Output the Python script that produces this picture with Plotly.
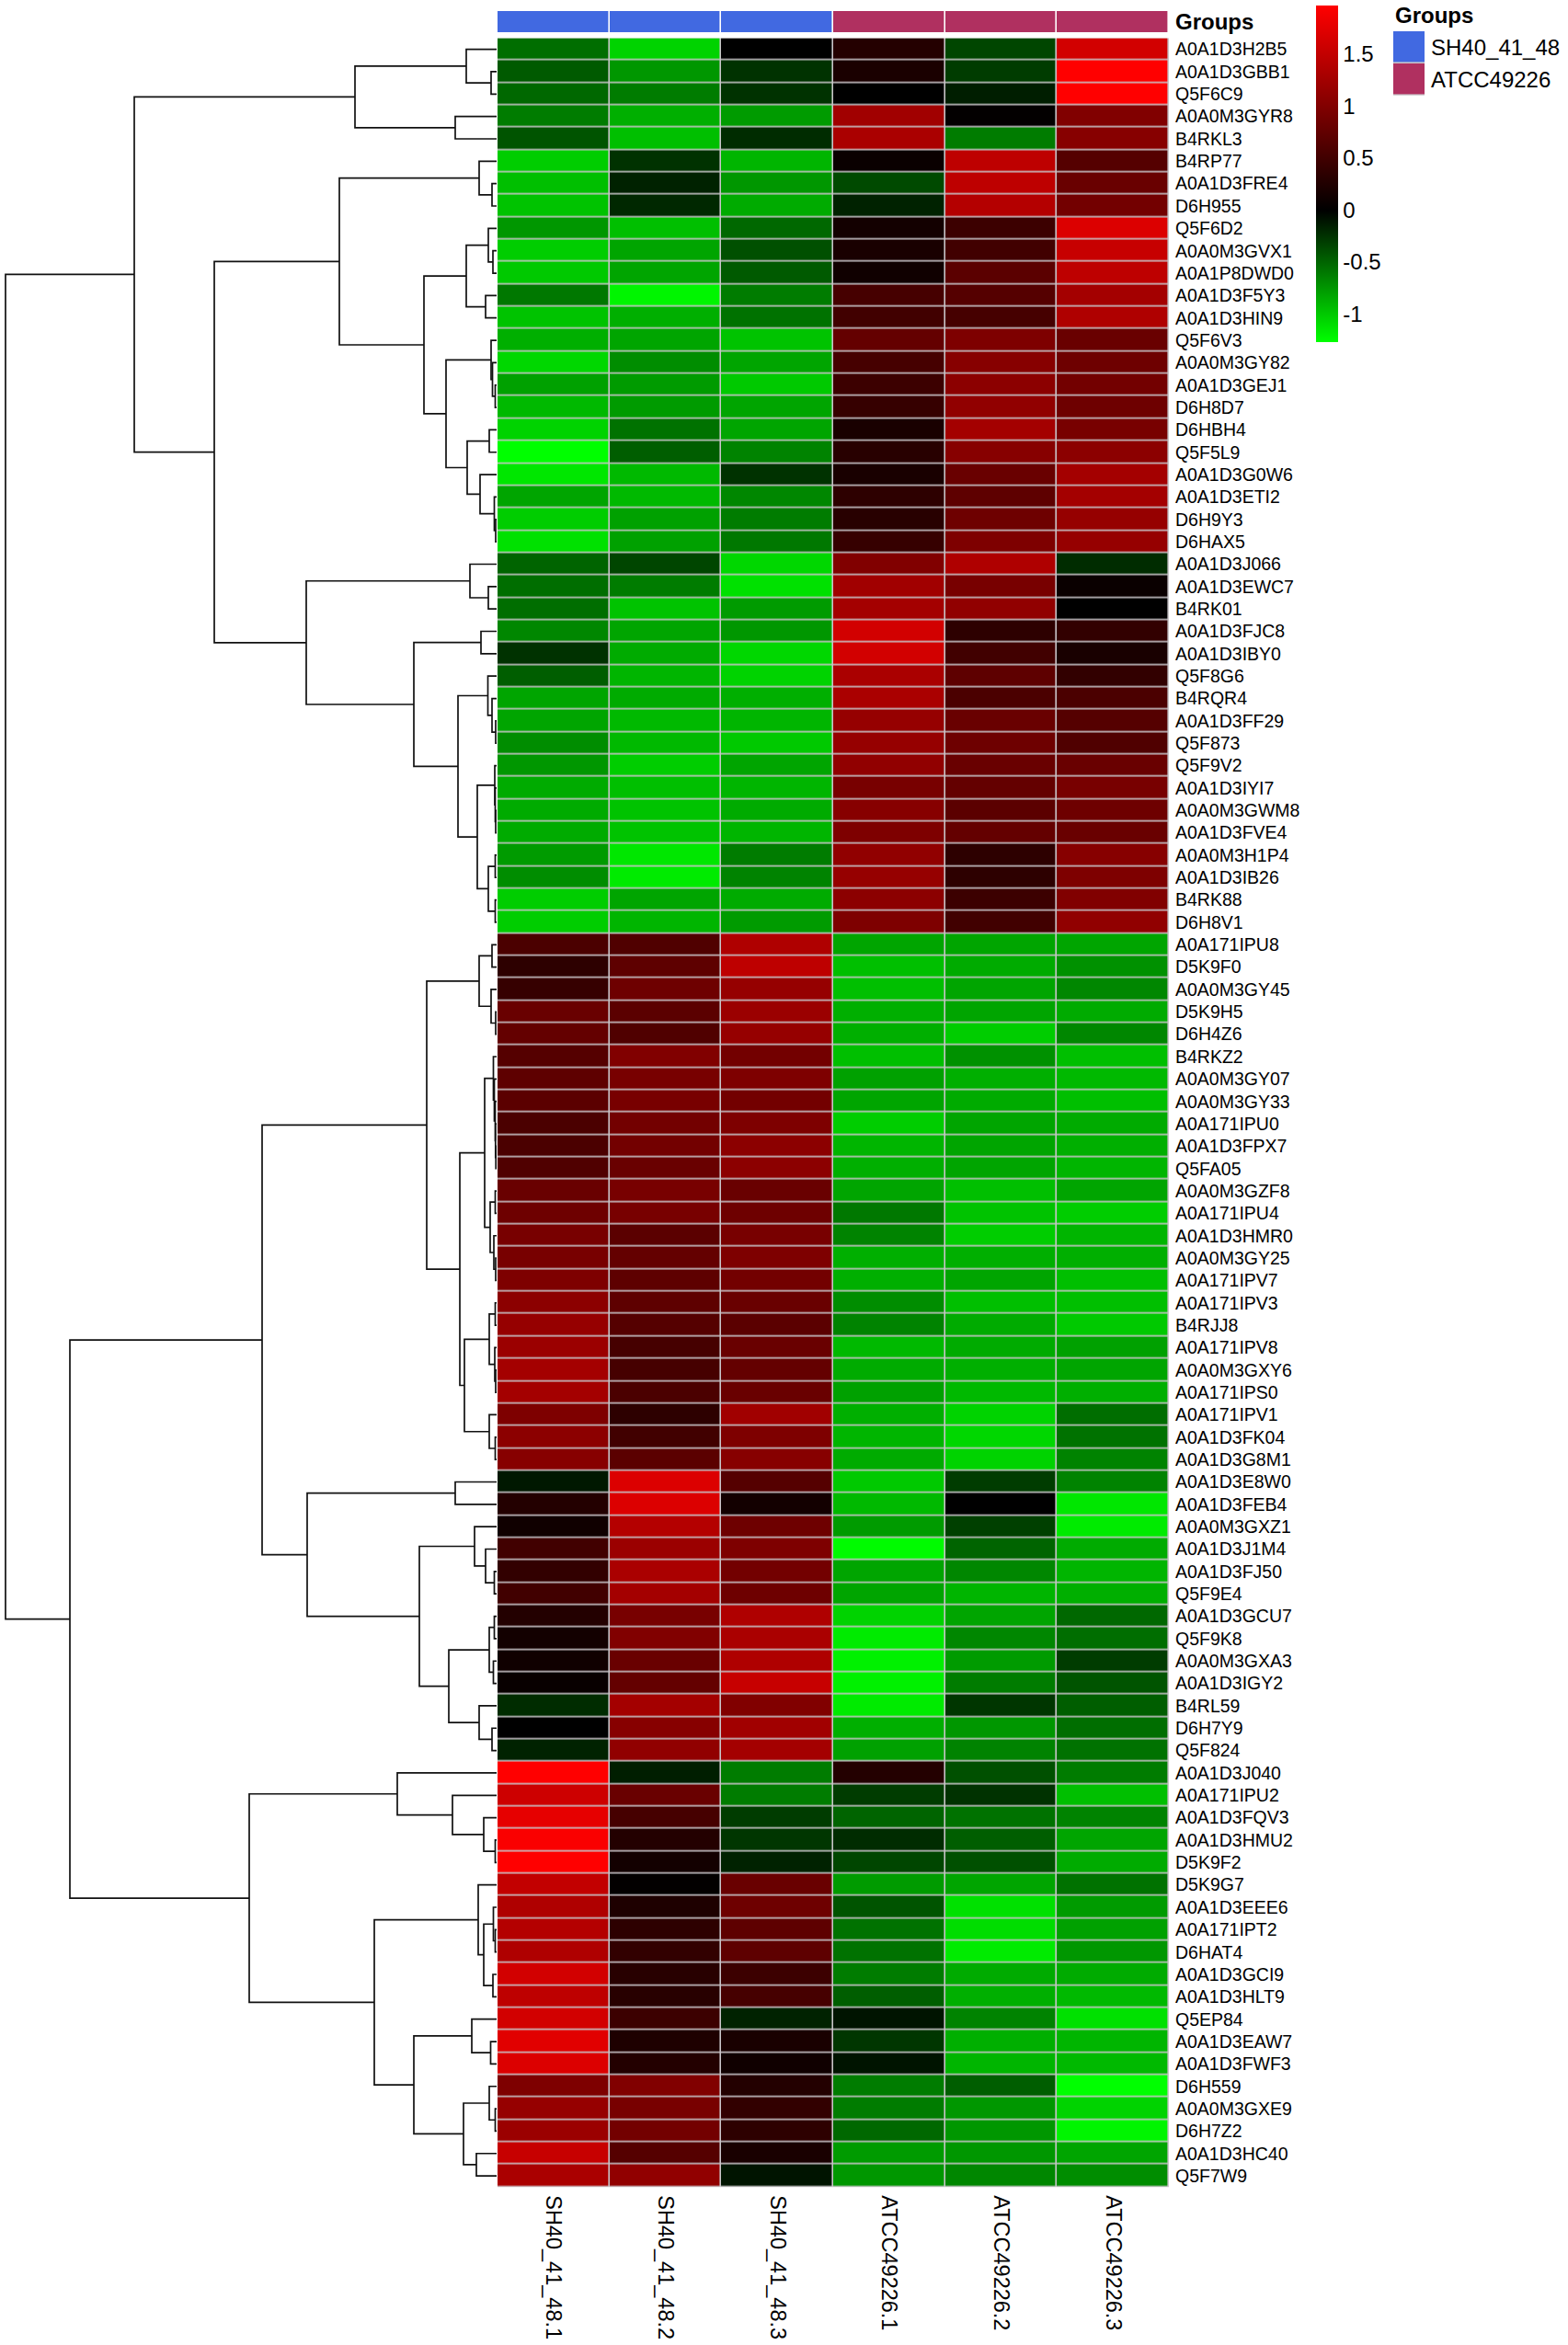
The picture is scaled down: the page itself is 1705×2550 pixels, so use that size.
import plotly.graph_objects as go

FIG_W = 1705
FIG_H = 2550
FONT = "Liberation Sans"
GRID = "#c9c5c9"
BLUE = "#4169E1"
MAROON = "#B03060"

SAMPLES = [
    "SH40_41_48.1", "SH40_41_48.2", "SH40_41_48.3",
    "ATCC49226.1", "ATCC49226.2", "ATCC49226.3",
]
GROUP_CODES = [0, 0, 0, 1, 1, 1]
GROUP_NAMES = ["SH40_41_48", "ATCC49226"]

PROTEINS = [
    "A0A1D3H2B5", "A0A1D3GBB1", "Q5F6C9", "A0A0M3GYR8", "B4RKL3", "B4RP77", "A0A1D3FRE4", "D6H955",
    "Q5F6D2", "A0A0M3GVX1", "A0A1P8DWD0", "A0A1D3F5Y3", "A0A1D3HIN9", "Q5F6V3", "A0A0M3GY82", "A0A1D3GEJ1",
    "D6H8D7", "D6HBH4", "Q5F5L9", "A0A1D3G0W6", "A0A1D3ETI2", "D6H9Y3", "D6HAX5", "A0A1D3J066",
    "A0A1D3EWC7", "B4RK01", "A0A1D3FJC8", "A0A1D3IBY0", "Q5F8G6", "B4RQR4", "A0A1D3FF29", "Q5F873",
    "Q5F9V2", "A0A1D3IYI7", "A0A0M3GWM8", "A0A1D3FVE4", "A0A0M3H1P4", "A0A1D3IB26", "B4RK88", "D6H8V1",
    "A0A171IPU8", "D5K9F0", "A0A0M3GY45", "D5K9H5", "D6H4Z6", "B4RKZ2", "A0A0M3GY07", "A0A0M3GY33",
    "A0A171IPU0", "A0A1D3FPX7", "Q5FA05", "A0A0M3GZF8", "A0A171IPU4", "A0A1D3HMR0", "A0A0M3GY25", "A0A171IPV7",
    "A0A171IPV3", "B4RJJ8", "A0A171IPV8", "A0A0M3GXY6", "A0A171IPS0", "A0A171IPV1", "A0A1D3FK04", "A0A1D3G8M1",
    "A0A1D3E8W0", "A0A1D3FEB4", "A0A0M3GXZ1", "A0A1D3J1M4", "A0A1D3FJ50", "Q5F9E4", "A0A1D3GCU7", "Q5F9K8",
    "A0A0M3GXA3", "A0A1D3IGY2", "B4RL59", "D6H7Y9", "Q5F824", "A0A1D3J040", "A0A171IPU2", "A0A1D3FQV3",
    "A0A1D3HMU2", "D5K9F2", "D5K9G7", "A0A1D3EEE6", "A0A171IPT2", "D6HAT4", "A0A1D3GCI9", "A0A1D3HLT9",
    "Q5EP84", "A0A1D3EAW7", "A0A1D3FWF3", "D6H559", "A0A0M3GXE9", "D6H7Z2", "A0A1D3HC40", "Q5F7W9",
]

# z-scores, one row per protein
VALUES_ATCC_UP_1 = [
    [-.55, -1.05, 0, .28, -.35, 1.62], [-.45, -.75, -.25, .2, -.3, 1.97], [-.52, -.62, -.25, 0, -.15, 1.97],
    [-.62, -.87, -.77, 1.24, .02, 1.0], [-.42, -.95, -.22, 1.31, -.62, 1.04], [-1.02, -.25, -.9, .08, 1.47, .66],
    [-.95, -.17, -.75, -.37, 1.47, .81], [-.97, -.2, -.85, -.17, 1.39, .89], [-.75, -.95, -.52, .15, .46, 1.7],
    [-1.02, -.82, -.4, .19, .5, 1.54], [-1.0, -.82, -.45, .12, .7, 1.47], [-.6, -1.22, -.62, .54, .66, 1.27],
    [-.97, -.87, -.57, .5, .54, 1.35], [-.87, -.82, -.97, .77, .97, .81], [-1.07, -.7, -.82, .54, 1.04, .85],
    [-.8, -.77, -1.0, .46, 1.08, .89], [-.92, -.77, -.82, .42, 1.12, .85], [-1.05, -.57, -.82, .19, 1.27, .93],
    [-1.27, -.47, -.65, .31, 1.04, 1.08], [-1.15, -.92, -.25, .19, .81, 1.27],
]
VALUES_ATCC_UP_2 = [
    [-.82, -.92, -.67, .35, .73, 1.27], [-1.02, -.8, -.62, .31, .85, 1.16], [-1.12, -.8, -.6, .42, .97, 1.16],
    [-.5, -.35, -1.07, 1.0, 1.35, -.22], [-.55, -.62, -1.12, 1.24, .93, .08], [-.55, -.97, -.77, 1.27, 1.12, 0],
    [-.67, -.82, -.75, 1.62, .35, .39], [-.25, -.85, -1.07, 1.62, .5, .19], [-.47, -.9, -1.05, 1.31, .73, .39],
    [-.82, -.85, -.87, 1.31, .58, .58], [-.82, -.92, -.9, 1.16, .81, .66], [-.7, -.92, -1.0, 1.16, .85, .62],
    [-.75, -1.02, -.82, 1.12, .81, .81], [-.85, -.95, -.9, .93, .77, .93], [-.85, -.97, -.85, 1.04, .7, .85],
    [-.85, -.97, -.9, .97, .77, .81], [-.77, -1.15, -.62, 1.12, .35, 1.04], [-.7, -1.17, -.65, 1.16, .35, .97],
    [-1.02, -.82, -.85, 1.08, .46, 1.0], [-1.02, -.9, -.77, .97, .5, 1.12],
]
VALUES_SH40_UP_1 = [
    [.58, .62, 1.35, -.82, -.82, -.82], [.35, .73, 1.47, -.95, -.85, -.72], [.42, .85, 1.16, -.95, -.82, -.67],
    [.81, .7, 1.2, -.87, -.82, -.85], [.77, .62, 1.16, -.87, -1.02, -.67], [.66, 1.0, .89, -.95, -.72, -.95],
    [.73, .93, .97, -.8, -.87, -.92], [.7, .93, .89, -.82, -.85, -.95], [.58, .89, .97, -1.02, -.82, -.85],
    [.58, .89, 1.08, -.9, -.82, -.87], [.62, .81, 1.08, -.87, -.82, -.9], [.81, .93, .81, -.82, -.95, -.82],
    [.85, .93, .85, -.6, -.97, -1.02], [.93, .7, .93, -.65, -1.02, -.9], [.93, .77, .97, -.87, -.87, -.87],
    [.97, .73, .89, -.87, -.82, -.95], [1.08, .73, .81, -.7, -.95, -.95], [1.16, .66, .7, -.65, -.85, -1.0],
    [1.2, .54, .81, -.92, -.85, -.8], [1.27, .54, .77, -.85, -.87, -.82], [1.27, .58, .81, -.8, -.92, -.87],
    [.97, .35, 1.24, -.87, -1.05, -.55], [1.08, .5, .97, -.9, -1.07, -.57], [1.04, .7, 1.04, -.85, -1.05, -.65],
]
VALUES_SH40_UP_2 = [
    [-.12, 1.7, .66, -1.0, -.3, -.65], [.27, 1.7, .15, -.92, 0, -1.15], [.12, 1.39, .85, -.77, -.32, -1.17],
    [.5, 1.2, .97, -1.25, -.5, -.85], [.39, 1.31, .89, -.82, -.67, -.9], [.5, 1.27, .85, -.82, -.9, -.87],
    [.27, .93, 1.35, -1.05, -.82, -.52], [.15, 1.0, 1.31, -1.17, -.67, -.55], [.12, .81, 1.35, -1.2, -.77, -.3],
    [.06, .77, 1.54, -1.2, -.62, -.42], [-.22, 1.27, 1.0, -1.17, -.27, -.47], [0, 1.04, 1.24, -.87, -.75, -.55],
    [-.17, 1.12, 1.27, -.8, -.65, -.57],
]
VALUES_SAMPLE_1_UP = [
    [1.97, -.15, -.62, .27, -.4, -.62], [1.58, .81, -.62, -.3, -.25, -.95], [1.78, .54, -.3, -.5, -.57, -.65],
    [1.93, .27, -.27, -.22, -.47, -.82], [1.97, .15, -.17, -.35, -.4, -.85], [1.5, .02, .81, -.77, -.82, -.57],
    [1.35, .23, .85, -.42, -1.12, -.77], [1.39, .35, .73, -.57, -1.1, -.8], [1.35, .39, .73, -.57, -1.17, -.75],
    [1.62, .31, .46, -.62, -.85, -.85], [1.47, .31, .54, -.47, -.87, -.92], [1.62, .46, -.17, -.1, -.65, -1.12],
    [1.74, .23, .19, -.27, -.87, -.9], [1.7, .27, .12, -.1, -.9, -.92], [.97, 1.0, .27, -.62, -.47, -1.27],
    [1.16, .93, .39, -.62, -.75, -1.05], [1.2, .89, .35, -.52, -.75, -1.22], [1.54, .66, .19, -.77, -.75, -.82],
    [1.31, 1.12, -.1, -.75, -.67, -.7],
]

# dendrogram: [merge height, child, child], a bare int is a row index
TREE_A = [154, [33, 0, [6, 1, 2]], [45, 3, 4]]
TREE_B = [19, 5, [5, 6, 7]]
TREE_C = [33, [9, 8, [4, 9, 10]], [12, 11, 12]]
TREE_D = [55, [6, 13, [4.5, 14, [1.5, 15, 16]]],
          [32, [8, 17, 18], [18, 19, [2.5, 20, [1, 21, 22]]]]]
TREE_E = [207, [29, 23, [9, 24, 25]],
          [90, [17, 26, 27],
           [42, [9.5, 28, [5, 29, [1, 30, 31]]],
            [21, [2, 32, [1.5, 33, [1, 34, 35]]], [9, [1.5, 36, 37], [1.5, 38, 39]]]]]]
TREE_F = [19, [5, 40, 41], [6, 42, [1, 43, 44]]]
TREE_G = [13, [3.5, 45, [2.5, 46, [1.5, 47, [1.2, 48, [0.8, 49, 50]]]]],
          [7, [1.5, 51, 52], [3, 53, [1, 54, 55]]]]
TREE_H = [35, [8, [1.5, 56, 57], [2, 58, [1, 59, 60]]], [8, 61, [1.5, 62, 63]]]
TREE_I = [206, [45, 64, 65],
          [84, [24, 66, [12, 67, [2.5, 68, 69]]],
           [52, [8, [2.5, 70, 71], [3.5, 72, 73]], [19, 74, [5, 75, 76]]]]]
TREE_J = [108, 77, [48, 78, [14, 79, [1.5, 80, 81]]]]
TREE_K = [133, [20, 82, [14, [3.5, 83, [1.5, 84, 85]], [4, 86, 87]]],
          [90, [27, 88, [6.5, 89, 90]], [36, [8, 91, [1.5, 92, 93]], [22, 94, 95]]]]
TREE_UPPER = [394, TREE_A, [307, [171, TREE_B, [79, TREE_C, TREE_D]], TREE_E]]
TREE_LOWER = [464, [255, [76, TREE_F, [40, TREE_G, TREE_H]], TREE_I], [269, TREE_J, TREE_K]]
TREE_ROOT = [534, TREE_UPPER, TREE_LOWER]

Z_MIN = -1.27
Z_MAX = 1.97
COLORBAR_TICKS = [-1, -0.5, 0, 0.5, 1, 1.5]
HEAT_CMAP = [[0, "#00ff00"], [-Z_MIN / (Z_MAX - Z_MIN), "#000000"], [1, "#ff0000"]]
GROUP_CMAP = [[0, BLUE], [1, MAROON]]

z = VALUES_ATCC_UP_1 + VALUES_ATCC_UP_2 + VALUES_SH40_UP_1 + VALUES_SH40_UP_2 + VALUES_SAMPLE_1_UP


def px_x(left, right):
    return [left / FIG_W, right / FIG_W]


def px_y(top, bottom):
    return [1 - bottom / FIG_H, 1 - top / FIG_H]


def dendro_lines(node, xs, ys):
    if isinstance(node, int):
        return 0, node
    height, left, right = node
    x_a, y_a = dendro_lines(left, xs, ys)
    x_b, y_b = dendro_lines(right, xs, ys)
    xs += [x_a, height, height, x_b, None]
    ys += [y_a, y_a, y_b, y_b, None]
    return height, (y_a + y_b) / 2


tree_x, tree_y = [], []
dendro_lines(TREE_ROOT, tree_x, tree_y)

fig = go.Figure()
fig.add_trace(go.Heatmap(
    z=z, x=SAMPLES, y=PROTEINS, xaxis="x", yaxis="y",
    colorscale=HEAT_CMAP, zmin=Z_MIN, zmax=Z_MAX, xgap=1.6, ygap=1.6,
    colorbar=dict(
        x=1431 / FIG_W, xanchor="left", xpad=0,
        y=1 - 4 / FIG_H, yanchor="top", ypad=0,
        lenmode="pixels", len=366, thicknessmode="pixels", thickness=24,
        outlinewidth=0, ticks="", tickvals=COLORBAR_TICKS,
        ticktext=[str(t) for t in COLORBAR_TICKS],
        tickfont=dict(family=FONT, size=24, color="black"),
    ),
))
fig.add_trace(go.Scatter(
    x=tree_x, y=tree_y, xaxis="x2", yaxis="y2", mode="lines",
    line=dict(color="#111111", width=1.7), hoverinfo="skip", showlegend=False,
))
fig.add_trace(go.Heatmap(
    z=[GROUP_CODES], x=SAMPLES, y=["Groups"], xaxis="x3", yaxis="y3",
    colorscale=GROUP_CMAP, showscale=False, xgap=1.6,
))
fig.add_trace(go.Heatmap(
    z=[[0], [1]], x=["Groups"], y=GROUP_NAMES, xaxis="x4", yaxis="y4",
    colorscale=GROUP_CMAP, showscale=False, ygap=1.6,
))

fig.update_layout(
    width=FIG_W, height=FIG_H, margin=dict(l=0, r=0, t=0, b=0),
    paper_bgcolor="white", plot_bgcolor="white", font=dict(family=FONT, color="black"),
    xaxis=dict(domain=px_x(541, 1271), anchor="y", side="bottom", tickangle=90, ticks="",
               showgrid=False, zeroline=False, tickfont=dict(size=23.5), ticklabelstandoff=8),
    yaxis=dict(domain=px_y(39.5, 2380), anchor="x", side="right", autorange="reversed", ticks="",
               showgrid=False, zeroline=False, dtick=1, tickfont=dict(size=19.5), ticklabelstandoff=6),
    xaxis2=dict(domain=px_x(0, 540), anchor="y2", range=[540, 0], visible=False),
    yaxis2=dict(domain=px_y(39.5, 2380), anchor="x2", range=[95.5, -0.5], visible=False),
    xaxis3=dict(domain=px_x(541, 1271), anchor="y3", visible=False),
    yaxis3=dict(domain=px_y(10, 33), anchor="x3", side="right", ticks="", showgrid=False,
                tickfont=dict(size=24, weight="bold"), ticklabelstandoff=6),
    xaxis4=dict(domain=px_x(1515, 1549), anchor="y4", visible=False),
    yaxis4=dict(domain=px_y(32, 102), anchor="x4", side="right", autorange="reversed", ticks="",
                showgrid=False, tickfont=dict(size=24), ticklabelstandoff=6),
    annotations=[dict(
        text="<b>Groups</b>", x=1515 / FIG_W, y=1 - 15 / FIG_H, xref="paper", yref="paper",
        xanchor="left", yanchor="middle", showarrow=False, font=dict(size=24),
    )],
    shapes=[
        dict(type="rect", xref=xr + " domain", yref=yr + " domain", x0=0, x1=1, y0=0, y1=1,
             fillcolor=GRID, line_width=0, layer="below")
        for xr, yr in [("x", "y"), ("x4", "y4")]
    ],
)

# the page's default body margin would push the figure 8px off
fig.write_html(
    "out.html",
    config={"displayModeBar": False},
    post_script="document.body.style.margin = '0';",
)
